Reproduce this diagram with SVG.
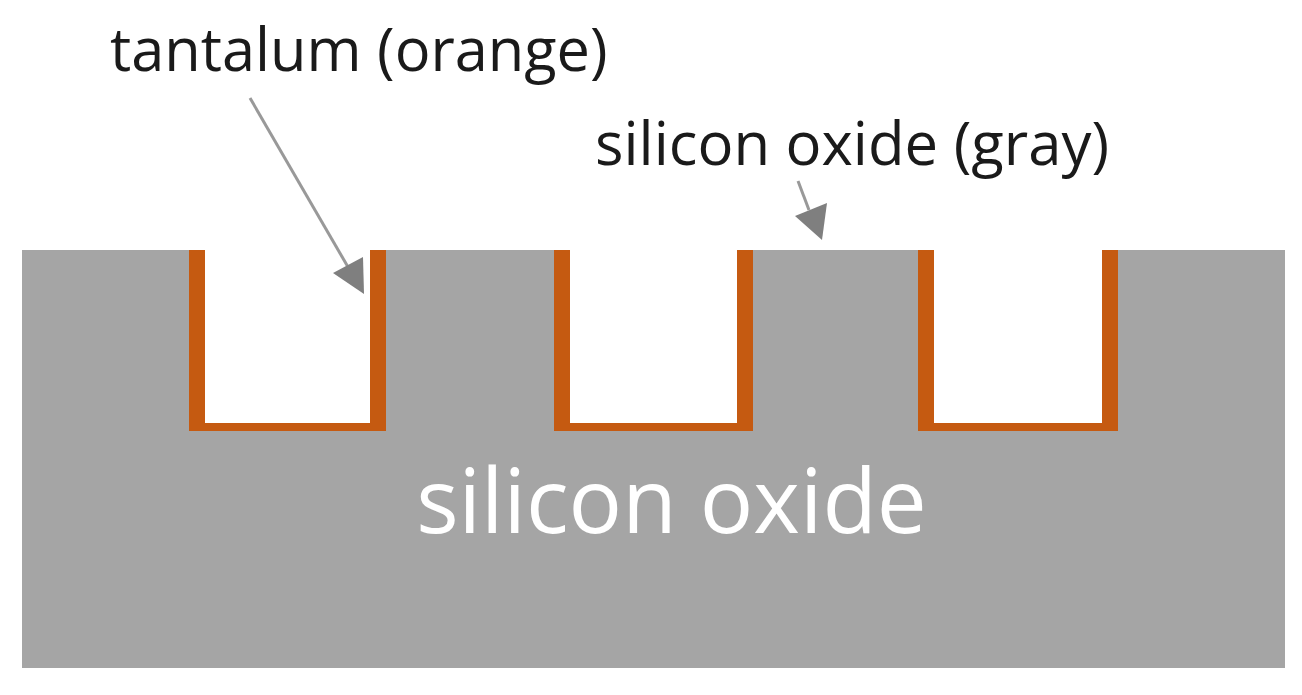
<svg xmlns="http://www.w3.org/2000/svg" width="1302" height="695" viewBox="0 0 1302 695">
<style>
.lbl{font-family:"Open Sans","Noto Sans",sans-serif;font-size:59.5px;fill:#1a1a1a}
.ta{fill:#c55a11}
.ld{stroke:#999;stroke-width:3;fill:none}
.hd{fill:#7f7f7f}
</style>
<rect width="1302" height="695" fill="#fff"/>
<g id="oxide">
<path d="M22 250H189V431H386V250H554V431H752V250H918V431H1117V250H1285V668H22Z" fill="#a5a5a5"/>
<text x="671.5" y="533" text-anchor="middle" font-family="Open Sans,Noto Sans,sans-serif" font-size="89" fill="#fff">silicon oxide</text>
</g>
<g id="tantalum">
<path class="ta" d="M189 250H205V423H370V250H386V431H189Z"/>
<path class="ta" d="M554 250H570V423H737V250H753V431H554Z"/>
<path class="ta" d="M918 250H934V423H1102V250H1118V431H918Z"/>
</g>
<g id="connectors">
<path class="ld" d="M250 98L348 267"/>
<path class="hd" d="M364 294L333 273L363 257Z"/>
<path class="ld" d="M798 181L809 210"/>
<path class="hd" d="M822 240L795 216L827 203Z"/>
</g>
<g id="labels">
<text class="lbl" x="110" y="71">tantalum (orange)</text>
<text class="lbl" x="595" y="165" style="font-size:59.8px">silicon oxide (gray)</text>
</g>
</svg>
